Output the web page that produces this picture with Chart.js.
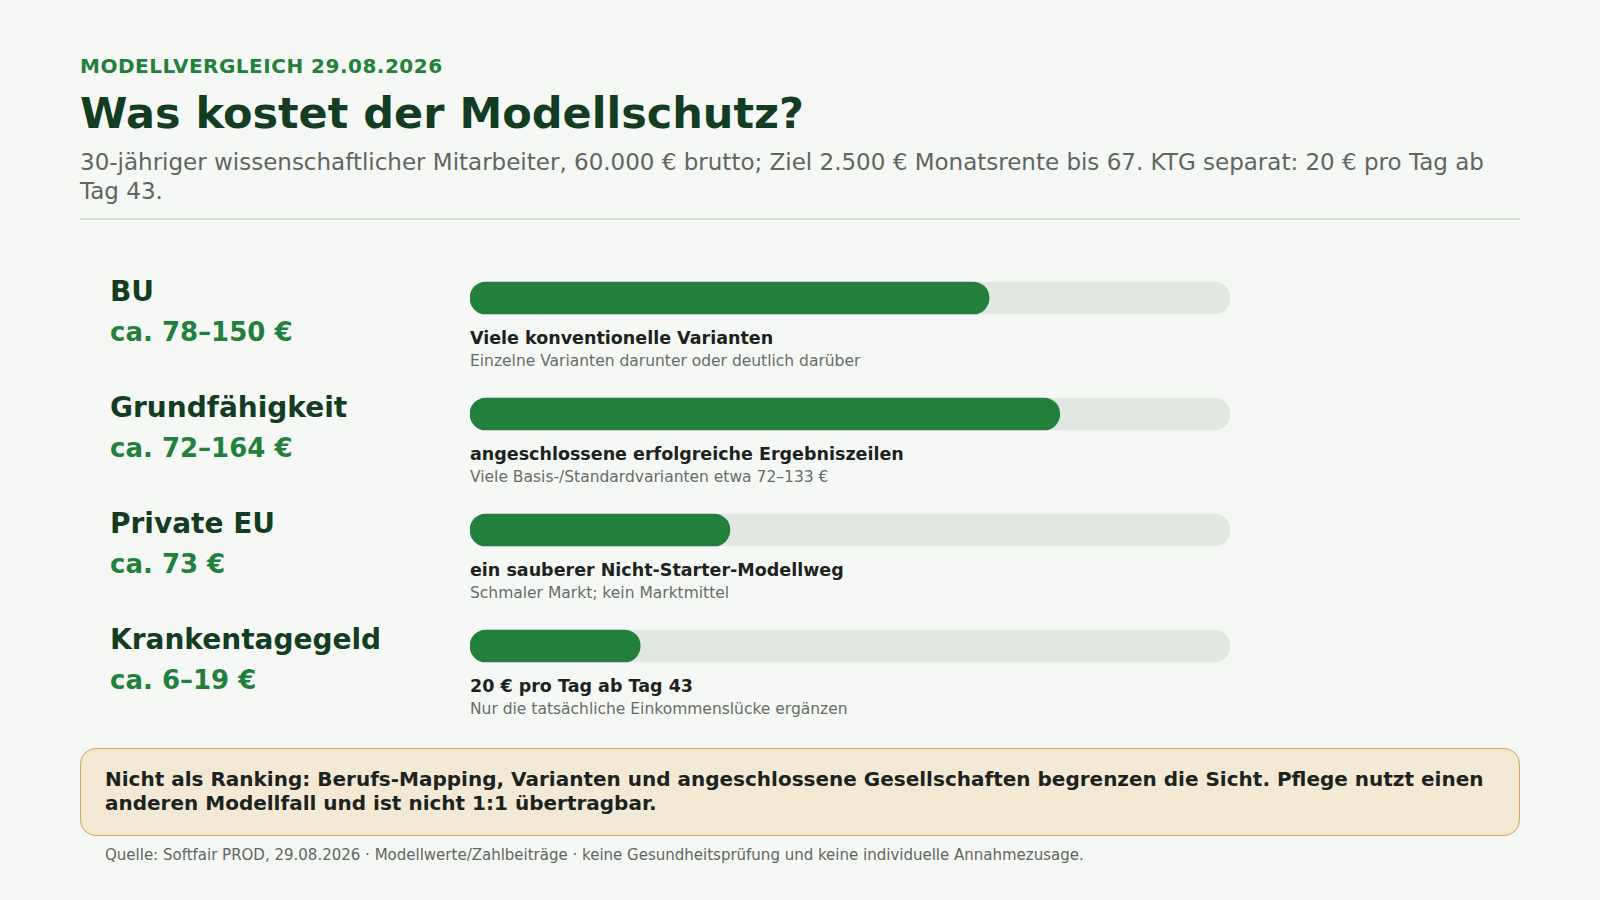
<!DOCTYPE html>
<html lang="de">
<head>
<meta charset="utf-8">
<script src="https://cdn.jsdelivr.net/npm/chart.js@4"></script>
<style>
  body { margin: 0; width: 1600px; height: 900px; background: #f6f8f5; font-family: "DejaVu Sans", sans-serif; position: relative; overflow: hidden; }
  .kicker { position: absolute; left: 80px; top: 54px; color: #23803c; font-weight: bold; font-size: 20px; letter-spacing: 0.5px; }
  h1 { position: absolute; left: 80px; top: 88px; margin: 0; color: #133d22; font-size: 43px; }
  .sub { position: absolute; left: 80px; top: 148px; width: 1440px; color: #5f6660; font-size: 23px; line-height: 29px; }
  .rule { position: absolute; left: 80px; top: 218px; width: 1440px; border-top: 2px solid #d8ddd8; }
  .name { position: absolute; left: 110px; font-weight: bold; font-size: 28px; color: #133d22; }
  .val { position: absolute; left: 110px; font-weight: bold; font-size: 26px; color: #23803c; }
  .note { position: absolute; left: 470px; font-weight: bold; font-size: 17.5px; color: #1c231e; }
  .hint { position: absolute; left: 470px; font-size: 15.5px; color: #666d67; }
  #wrap { position: absolute; left: 462px; top: 240px; width: 776px; height: 464px; }
  .box { position: absolute; left: 80px; top: 748px; width: 1390px; padding: 18px 24px 20px; background: #f4e9d4; border: 1.5px solid #d0aa55; border-radius: 16px; font-weight: bold; font-size: 20px; line-height: 24px; color: #1c231e; }
  .src { position: absolute; left: 105px; top: 846px; font-size: 15px; color: #5f6660; }
</style>
</head>
<body>
<div class="kicker">MODELLVERGLEICH 29.08.2026</div>
<h1>Was kostet der Modellschutz?</h1>
<div class="sub">30-jähriger wissenschaftlicher Mitarbeiter, 60.000 € brutto; Ziel 2.500 € Monatsrente bis 67. KTG separat: 20 € pro Tag ab Tag 43.</div>
<div class="rule"></div>
<div id="rows"></div>
<div id="wrap"><canvas id="c"></canvas></div>
<div class="box">Nicht als Ranking: Berufs-Mapping, Varianten und angeschlossene Gesellschaften begrenzen die Sicht. Pflege nutzt einen anderen Modellfall und ist nicht 1:1 übertragbar.</div>
<div class="src">Quelle: Softfair PROD, 29.08.2026 · Modellwerte/Zahlbeiträge · keine Gesundheitsprüfung und keine individuelle Annahmezusage.</div>
<script>
const categories = ['BU', 'Grundfähigkeit', 'Private EU', 'Krankentagegeld'];
const ranges = ['ca. 78–150 €', 'ca. 72–164 €', 'ca. 73 €', 'ca. 6–19 €'];
const fillShare = [68.3, 77.6, 34.2, 22.4];
const notes = ['Viele konventionelle Varianten', 'angeschlossene erfolgreiche Ergebniszeilen', 'ein sauberer Nicht-Starter-Modellweg', '20 € pro Tag ab Tag 43'];
const hints = ['Einzelne Varianten darunter oder deutlich darüber', 'Viele Basis-/Standardvarianten etwa 72–133 €', 'Schmaler Markt; kein Marktmittel', 'Nur die tatsächliche Einkommenslücke ergänzen'];

const rows = document.getElementById('rows');
categories.forEach((c, i) => {
  const y = 275 + i * 116;
  rows.innerHTML += `
    <div class="name" style="top:${y}px">${c}</div>
    <div class="val" style="top:${y + 42}px">${ranges[i]}</div>
    <div class="note" style="top:${y + 53}px">${notes[i]}</div>
    <div class="hint" style="top:${y + 77}px">${hints[i]}</div>`;
});

new Chart(document.getElementById('c'), {
  type: 'bar',
  data: {
    labels: categories,
    datasets: [
      { data: fillShare, backgroundColor: '#23803c', borderRadius: 16, borderSkipped: false, barThickness: 32, grouped: false, order: 0 },
      { data: categories.map(() => 100), backgroundColor: '#e1e8e2', borderRadius: 16, borderSkipped: false, barThickness: 32, grouped: false, order: 1 }
    ]
  },
  options: {
    indexAxis: 'y',
    responsive: true,
    maintainAspectRatio: false,
    animation: false,
    layout: { padding: { left: 8, right: 8, top: 0, bottom: 0 } },
    plugins: { legend: { display: false }, tooltip: { enabled: false } },
    scales: {
      x: { display: false, min: 0, max: 100 },
      y: { display: false, offset: true }
    }
  }
});
</script>
</body>
</html>
